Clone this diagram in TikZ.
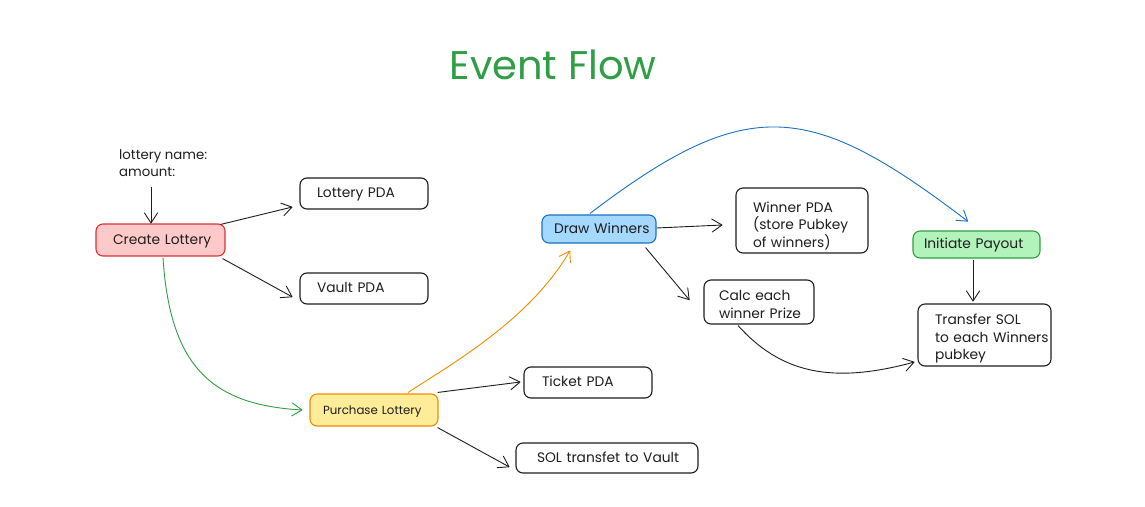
\documentclass[tikz,border=0pt]{standalone}
\usepackage{fontspec}
\setmainfont{Poppins}
\usetikzlibrary{arrows.meta,calc}
\definecolor{ink}{HTML}{1E1E1E}
\definecolor{redfill}{HTML}{FFC9C9}
\definecolor{redline}{HTML}{E03131}
\definecolor{yelfill}{HTML}{FFEC99}
\definecolor{yelline}{HTML}{F08C00}
\definecolor{bluefill}{HTML}{A5D8FF}
\definecolor{blueline}{HTML}{1971C2}
\definecolor{grnfill}{HTML}{B2F2BB}
\definecolor{grnline}{HTML}{2F9E44}
\newcommand{\topstrut}{\rule{0pt}{13pt}}
\newcommand{\botstrut}{\rule[-5pt]{0pt}{0pt}}
\newcommand{\tallstrut}[1]{\rule{0pt}{#1}}
\tikzset{
  box/.style={draw=ink, line width=1.1pt, rounded corners=7pt, fill=white,
    align=left, inner ysep=0pt, text=ink,
    font=\fontsize{13.8}{17.5}\selectfont,
    execute at begin node=\topstrut, execute at end node=\botstrut},
  arr/.style={draw=ink, line width=0.9pt,
    -{Straight Barb[length=10pt,width=13pt,line width=0.9pt,round]}},
}
\begin{document}
\begin{tikzpicture}[x=1pt,y=-1pt]
\useasboundingbox[fill=white] (0,0) rectangle (1145,506);

\node[text=grnline, font=\fontsize{40}{44}\selectfont] (title) at (553,65) {Event Flow};

\node[anchor=north west, align=left, text=ink, inner sep=0pt,
  font=\fontsize{13.3}{17}\selectfont] (in) at (119,149) {lottery name:\\amount:};

\node[box, fill=redfill, draw=redline, text width=95pt, inner xsep=17pt, minimum height=32pt] (cl) at (160.5,240) {\mbox{Create Lottery}};
\node[box, text width=94pt, inner xsep=17pt, minimum height=31pt] (lp) at (364,193.5) {\mbox{Lottery PDA}};
\node[box, text width=94pt, inner xsep=17pt, minimum height=31pt] (vp) at (364,288.5) {\mbox{Vault PDA}};
\node[box, fill=yelfill, draw=yelline, text width=102pt, inner xsep=13pt, minimum height=32pt,
  font=\fontsize{11.8}{14}\selectfont] (pl) at (374,410) {\mbox{Purchase Lottery}};
\node[box, text width=92pt, inner xsep=18pt, minimum height=31pt] (tp) at (588,382.5) {\mbox{Ticket PDA}};
\node[box, text width=140pt, inner xsep=21pt, minimum height=30pt] (sv) at (607,458) {\mbox{SOL transfet to Vault}};
\node[box, fill=bluefill, draw=blueline, text width=90pt, inner xsep=12pt, minimum height=28pt] (dw) at (599,229) {\mbox{Draw Winners}};
\node[box, text width=98pt, inner xsep=17pt, minimum height=65pt] (wp) at (802,220.5) {\tallstrut{23pt}\mbox{Winner PDA}\\\mbox{(store Pubkey}\\\mbox{of winners)}};
\node[box, text width=80pt, inner xsep=15pt, minimum height=44pt] (cp) at (759,302) {\tallstrut{20pt}\mbox{Calc each}\\\mbox{winner Prize}};
\node[box, fill=grnfill, draw=grnline, text width=105pt, inner xsep=11pt, minimum height=27pt] (ip) at (976.5,244.5) {\mbox{Initiate Payout}};
\node[box, text width=99pt, inner xsep=17pt, minimum height=62pt] (ts) at (984.5,335) {\tallstrut{19pt}\mbox{Transfer SOL}\\\mbox{to each Winners}\\\mbox{pubkey}};

\coordinate (ins) at (151,187);
\draw[arr] (ins) -- (cl.north -| ins);

\draw[arr] ($(cl.north east)+(-5,1)$) -- ($(lp.west)+(-7,13.5)$);
\draw[arr] ($(cl.south east)+(-3,2)$) -- ($(vp.west)+(-7,8.5)$);
\draw[arr, draw=grnline] ($(cl.south)+(2.5,1)$) .. controls (170,370) and (215,405) .. ($(pl.west)+(-7,0)$);
\draw[arr, draw=yelline] ($(pl.north)+(34,-1)$) .. controls (450,365) and (530,320) .. ($(dw.south)+(-29,7)$);
\draw[arr] ($(pl.north east)+(-1,-1)$) -- ($(tp.west)+(-3,-0.5)$);
\draw[arr] ($(pl.south east)+(-1,1)$) -- ($(sv.west)+(-6,9)$);
\draw[arr] ($(dw.east)+(0,-1)$) -- ($(wp.west)+(-13,4.5)$);
\draw[arr] ($(dw.south east)+(-11,4)$) -- ($(cp.west)+(-14,-2)$);
\draw[arr, draw=blueline] ($(dw.north)+(-9,-1)$) .. controls (748,93) and (810,101) .. ($(ip.north)+(-8.5,-9)$);
\draw[arr] ($(ip.south)+(-3.5,1.5)$) -- ($(ts.north)+(-11.5,-2)$);
\draw[arr] ($(cp.south)+(-21,1)$) .. controls (780,372) and (830,385) .. ($(ts.west)+(-3,27)$);
\end{tikzpicture}
\end{document}
